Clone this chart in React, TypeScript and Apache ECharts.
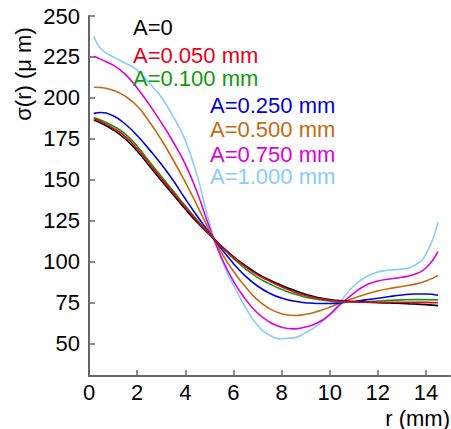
import React, { useEffect, useRef } from "react";
import * as echarts from "echarts";

const rValues = [0.2, 0.5, 1, 1.5, 2, 2.5, 3, 3.5, 4, 4.5, 5, 5.5, 6, 6.5, 7, 7.5, 8, 8.5, 9, 9.5, 10, 10.5, 11, 11.5, 12, 12.5, 13, 13.5, 14, 14.5];

const sigmaA0 = [186.4, 184.5, 180.5, 175, 167.5, 158.5, 149.5, 140.8, 132, 123.8, 116.5, 109.5, 103, 97.5, 92.6, 88.7, 85.4, 82.5, 80, 78, 76.8, 76, 75.5, 75.1, 74.8, 74.6, 74.3, 74, 73.6, 73];
const sigmaA050 = [187.2, 185.5, 181.5, 176.5, 169, 159.8, 150.8, 142, 133, 124.6, 116.8, 109.3, 102.5, 96.8, 91.8, 88, 84.5, 81.5, 79.2, 77.5, 76.3, 75.6, 75.3, 75.1, 75.1, 75.1, 75.1, 75.1, 75, 74.8];
const sigmaA100 = [187.8, 186.3, 182.8, 178, 170.5, 161.2, 152, 143, 134, 125.2, 117, 109.2, 101.8, 95.5, 90.3, 86.3, 83, 80.2, 78.2, 76.8, 75.8, 75.3, 75.2, 75.4, 75.8, 76.2, 76.5, 76.7, 76.7, 76.5];
const sigmaA250 = [190.5, 191, 189, 184, 177, 168.5, 159.5, 149.5, 138.3, 127.6, 117.5, 107.8, 98.8, 91, 85, 80.6, 77.6, 75.8, 74.8, 74.3, 74.3, 74.8, 75.5, 76.5, 77.5, 78.6, 79.5, 80.1, 80.1, 79.3];
const sigmaA500 = [206.5, 206.3, 204.6, 201, 195, 185.5, 174.5, 162, 148.5, 134, 119, 105.5, 94, 84.5, 76.5, 71.2, 68, 67, 67.7, 69.5, 72, 75, 77.5, 80, 82, 83.5, 84.7, 86, 88, 91.5];
const sigmaA750 = [225.4, 223.5, 220, 214.5, 206, 196, 185, 173, 159.5, 142, 121, 102.5, 88, 77, 68.5, 63, 59.8, 58.8, 60, 62.5, 67.5, 74.5, 80.5, 85.5, 88, 89.3, 90.3, 92, 96, 106];
const sigmaA1000 = [237.5, 230, 225, 221.3, 217, 209, 200.5, 188.5, 174, 152, 124, 101.5, 85.5, 72, 61, 55, 52.8, 53.3, 56.5, 61, 67.5, 76.5, 85, 90.5, 93.5, 94.8, 95.3, 97.3, 104.5, 124];

const seriesLabels = ["A=0", "A=0.050 mm", "A=0.100 mm", "A=0.250 mm", "A=0.500 mm", "A=0.750 mm", "A=1.000 mm"];
const seriesValues = [sigmaA0, sigmaA050, sigmaA100, sigmaA250, sigmaA500, sigmaA750, sigmaA1000];
const seriesColors = ["#000000", "#e8001c", "#109a10", "#0000e6", "#c46a10", "#dd00dd", "#88ccff"];

const xTicks = [0, 2, 4, 6, 8, 10, 12, 14];
const yTicks = [50, 75, 100, 125, 150, 175, 200, 225, 250];
const xTitle = "r (mm)";
const yTitle = "σ(r) (μ m)";

// draw order: light blue first, red last (on top)
const drawOrder = [6, 5, 4, 3, 2, 0, 1];

// legend layout (x, y) for each label
const legendLayout = [
  [133, 27], [133, 55], [133, 78], [210, 105], [210, 129.5], [210, 154], [210, 176.5],
];

export default function App() {
  const ref = useRef<HTMLDivElement>(null);
  useEffect(() => {
    if (!ref.current) return;
    const chart = echarts.init(ref.current, null, { renderer: "svg" });
    const font = "Liberation Sans, Arial, sans-serif";
    const axisColor = "#666666";
    const series = drawOrder.map((i) => ({
      type: "line",
      name: seriesLabels[i],
      data: rValues.map((r, k) => [r, seriesValues[i][k]]),
      smooth: 0.5,
      showSymbol: false,
      symbol: "none",
      lineStyle: { color: seriesColors[i], width: 1.6 },
      itemStyle: { color: seriesColors[i] },
      z: 2,
    }));
    const graphic: any[] = seriesLabels.map((t, i) => ({
      type: "text",
      x: legendLayout[i][0],
      y: legendLayout[i][1],
      style: {
        text: t,
        fill: seriesColors[i],
        font: `22px ${font}`,
        lineHeight: 18,
        textAlign: "left",
        textVerticalAlign: "middle",
      },
      z: 10,
    }));
    graphic.push({
      type: "text",
      x: 23,
      y: 74,
      rotation: Math.PI / 2,
      style: {
        text: yTitle,
        fill: "#000",
        font: `22px ${font}`,
        textAlign: "center",
        textVerticalAlign: "middle",
      },
    });
    graphic.push({
      type: "text",
      x: 450,
      y: 418,
      style: {
        text: xTitle,
        fill: "#000",
        font: `22px ${font}`,
        lineHeight: 18,
        textAlign: "right",
        textVerticalAlign: "middle",
      },
    });
    chart.setOption({
      animation: false,
      grid: { left: 89, right: 1, top: 16, bottom: 53, containLabel: false },
      xAxis: {
        type: "value",
        min: 0,
        max: 15,
        axisLine: { show: true, lineStyle: { color: axisColor, width: 2 } },
        axisTick: { show: true, inside: true, length: 6, customValues: xTicks, lineStyle: { color: axisColor, width: 1.5 } },
        axisLabel: { customValues: xTicks, color: "#000", fontSize: 22, fontFamily: font, margin: 5 },
        splitLine: { show: false },
      },
      yAxis: {
        type: "value",
        min: 30,
        max: 250,
        axisLine: { show: true, lineStyle: { color: axisColor, width: 2 } },
        axisTick: { show: true, inside: true, length: 6, customValues: yTicks, lineStyle: { color: axisColor, width: 1.5 } },
        axisLabel: { customValues: yTicks, color: "#000", fontSize: 22, fontFamily: font, margin: 9 },
        splitLine: { show: false },
      },
      series,
      graphic,
    });
    return () => chart.dispose();
  }, []);
  return (
    <div
      ref={ref}
      style={{ position: "fixed", left: 0, top: 0, width: 451, height: 429, background: "#fff" }}
    />
  );
}
